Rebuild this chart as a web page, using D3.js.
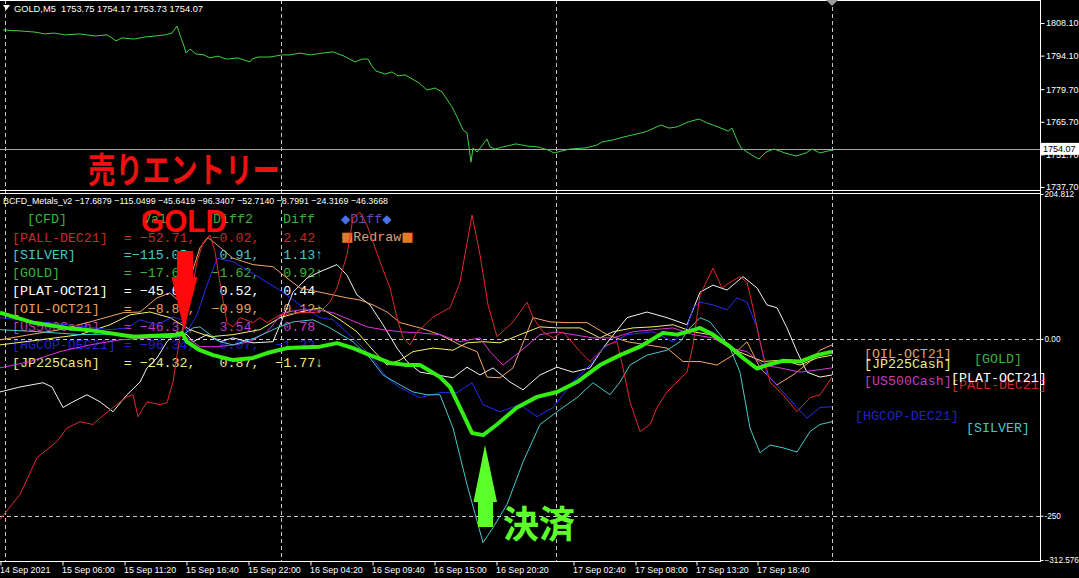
<!DOCTYPE html>
<html><head><meta charset="utf-8">
<script src="https://cdn.jsdelivr.net/npm/d3@7"></script>
<style>html,body{margin:0;padding:0;background:#000;overflow:hidden}text{white-space:pre}</style>
</head><body><svg id="c" width="1079" height="578"></svg>
<script>
// ---------- DATA ----------
const timeLabels = ["14 Sep 2021","15 Sep 06:00","15 Sep 11:20","15 Sep 16:40","15 Sep 22:00","16 Sep 04:20","16 Sep 09:40","16 Sep 15:00","16 Sep 20:20","17 Sep 02:40","17 Sep 08:00","17 Sep 13:20","17 Sep 18:40"];
const timeTicks = [0,62,124,186,248,310,372,434,496,573,635,696,757];
const gridBars = [5,281,556,832];
const priceTicks = [1808.10,1794.10,1779.70,1765.70,1751.70,1737.70];
const lastPrice = 1754.07;
const indTicks = [204.812,0,-250,-312.576];
const indLevels = [0,-250];

const goldPrice = [[3,1805.1],[20,1804.7],[35,1804.2],[45,1803.4],[54,1803.8],[65,1803.0],[80,1803.4],[95,1802.5],[107,1803.0],[112,1801.7],[116,1800.4],[122,1801.7],[134,1801.2],[145,1802.1],[155,1802.5],[165,1803.0],[172,1803.8],[177,1806.8],[181,1801.7],[184,1798.2],[186,1795.2],[190,1796.9],[196,1794.8],[204,1794.4],[210,1793.1],[218,1793.9],[226,1792.6],[238,1793.1],[250,1791.4],[252,1792.6],[258,1793.5],[270,1793.5],[282,1794.4],[290,1794.4],[300,1795.2],[310,1794.4],[323,1795.2],[333,1795.7],[344,1793.9],[355,1791.4],[362,1792.6],[368,1792.6],[372,1789.6],[376,1787.5],[385,1786.2],[392,1787.1],[398,1785.4],[405,1785.8],[412,1784.1],[419,1782.4],[427,1779.3],[435,1780.2],[442,1778.5],[452,1772.1],[457,1767.8],[463,1762.2],[467,1760.9],[469,1754.9],[471,1748.4],[473,1754.5],[477,1752.7],[481,1754.9],[487,1758.3],[490,1754.9],[495,1754.0],[503,1754.9],[516,1756.2],[527,1755.3],[538,1754.9],[548,1753.6],[554,1752.3],[562,1753.2],[570,1754.0],[586,1754.5],[597,1755.7],[602,1757.0],[613,1757.9],[624,1759.2],[645,1761.3],[661,1764.3],[669,1763.0],[677,1763.5],[688,1765.6],[699,1766.9],[707,1765.2],[718,1763.5],[728,1761.7],[732,1763.0],[737,1757.9],[741,1754.5],[747,1752.7],[755,1750.6],[759,1749.7],[766,1752.7],[774,1754.0],[785,1752.3],[796,1751.0],[806,1752.3],[812,1754.0],[820,1752.3],[828,1753.2],[833,1753.6]];

const goldIdx = [[0,37],[33,23],[67,15.5],[97,11],[133,3],[177,6],[182,8.5],[187,-4],[200,-16],[213,-23],[233,-30],[253,-27],[267,-20],[287,-13],[320,-11],[337,-6],[353,-13],[370,-23],[390,-34],[407,-37],[420,-37],[440,-54],[450,-68],[460,-97],[472,-133],[483,-136],[497,-121],[517,-97],[537,-82],[557,-75],[577,-61],[600,-37],[620,-23],[640,-11],[663,8.5],[677,6],[687,10],[700,15.5],[713,6],[730,-11],[743,-27],[757,-42],[767,-37],[783,-31],[800,-32],[817,-23],[832,-18]];
const silverIdx = [[0,13],[40,10],[80,6],[120,7],[160,1.4],[180,3],[193,15.5],[200,17],[210,6],[220,-4],[233,-8.5],[255,1.4],[277,15.5],[293,24],[313,27],[330,15.5],[353,-4],[370,-27],[383,-51],[400,-65],[413,-75],[427,-79],[440,-79],[453,-126],[467,-206],[483,-288],[493,-267],[507,-234],[523,-174],[540,-121],[557,-103],[577,-83],[593,-62],[610,-79],[620,-61],[630,-37],[647,-23],[667,-16],[680,-4],[690,15.5],[700,30],[710,24],[720,6],[730,-13],[740,-47],[750,-126],[760,-161],[770,-150],[783,-154],[797,-160],[810,-131],[820,-121],[832,-117]];
const pallIdx = [[0,-255],[20,-220],[37,-168],[57,-145],[67,-126],[80,-117],[93,-121],[100,-112],[113,-97],[127,-82],[133,-79],[138,-110],[147,-89],[160,-93],[167,-90],[173,-61],[177,-23],[180,1.4],[190,55],[197,109],[203,136],[210,147],[215,123],[222,62],[227,23],[233,17],[240,30],[253,23],[260,30],[267,23],[280,34],[300,37],[320,38],[330,52],[337,72],[347,119],[353,171],[360,179],[367,161],[380,109],[390,72],[397,30],[403,1.4],[410,-8.5],[417,10],[425,20],[433,31],[450,44],[460,80],[472,175],[480,119],[488,48],[497,3],[513,24],[527,52],[533,30],[543,10],[553,1.4],[563,10],[580,-18],[590,-32],[600,-18],[607,-8.5],[617,-4],[623,-41],[630,-89],[640,-131],[650,-121],[657,-97],[667,-75],[677,-61],[687,-47],[693,-8.5],[700,62],[713,100],[722,72],[730,80],[740,88],[747,80],[753,44],[760,-4],[770,-61],[783,-79],[797,-103],[810,-83],[820,-79],[832,-54]];
const hgcopIdx = [[0,30],[40,24],[80,18],[110,13],[127,15.5],[140,27],[157,20],[173,31],[182,27],[187,10],[197,34],[207,76],[217,114],[233,109],[250,95],[267,80],[280,69],[300,48],[320,30],[333,27],[353,1.4],[370,-23],[387,-55],[400,-69],[420,-83],[440,-76],[457,-76],[472,-62],[483,-93],[500,-103],[520,-93],[537,-110],[553,-97],[573,-61],[590,-37],[603,-13],[627,6],[653,10],[673,-4],[687,15.5],[693,44],[700,52],[713,48],[727,41],[737,58],[747,52],[757,15.5],[767,-51],[783,-75],[797,-97],[807,-112],[820,-97],[832,-96]];
const platIdx = [[0,-75],[20,-68],[43,-62],[52,-68],[63,-97],[73,-89],[87,-79],[100,-89],[113,-103],[127,-79],[140,-61],[147,-41],[157,-27],[167,-4],[177,10],[187,6],[193,-4],[207,6],[220,-4],[233,1.4],[253,-5.6],[273,-4],[283,30],[293,66],[307,86],[320,95],[337,105],[347,90],[357,62],[370,48],[383,20],[397,-13],[407,-32],[420,-47],[437,-51],[453,-55],[467,-40],[480,-51],[493,-41],[510,-61],[523,-72],[540,-51],[557,-40],[573,-47],[590,-41],[603,-13],[627,30],[647,38],[667,30],[687,20],[700,66],[713,76],[727,69],[743,88],[757,72],[767,48],[777,44],[787,15.5],[797,-18],[807,-47],[820,-54],[832,-51]];
const oilIdx = [[0,-1.4],[30,6],[60,13],[90,24],[123,37],[140,38],[157,58],[170,65],[180,52],[187,72],[200,129],[208,143],[217,133],[233,114],[253,105],[273,102],[287,86],[300,72],[320,66],[347,58],[360,55],[373,48],[387,38],[400,23],[420,15.5],[440,6],[460,-8.5],[477,-18],[487,-54],[500,-55],[513,-41],[533,30],[550,24],[567,23],[587,23],[607,6],[627,-4],[647,-8.5],[667,-13],[683,-32],[700,-32],[717,-37],[733,-23],[747,-4],[760,-41],[777,-65],[793,-51],[810,-32],[820,-16],[832,-8.5]];
const us500Idx = [[0,-41],[30,-32],[60,-18],[90,-8.5],[120,-1.4],[150,1.4],[180,8.5],[200,-11],[217,-11],[233,-8.5],[250,-4],[267,10],[283,37],[300,41],[317,41],[333,37],[350,27],[367,17],[383,13],[400,10],[420,8.5],[440,6],[460,-4],[480,1.4],[490,-18],[503,-37],[520,-18],[540,6],[557,10],[573,6],[593,1.4],[613,1.4],[633,10],[653,13],[673,15.5],[693,6],[713,1.4],[730,-13],[747,-18],[763,-37],[780,-41],[800,-47],[817,-44],[832,-41]];
const jp225Idx = [[0,-8.5],[40,-1.4],[80,6],[110,20],[130,34],[150,38],[170,30],[190,13],[210,3],[233,6],[260,13],[280,30],[300,38],[320,44],[340,27],[357,10],[373,-16],[387,-37],[400,-30],[413,-18],[433,-13],[453,-16],[467,-5.6],[483,-4],[500,-5.6],[520,6],[540,17],[557,15.5],[580,15.5],[600,1.4],[613,10],[633,15.5],[653,17],[673,20],[693,10],[710,6],[730,-13],[747,-23],[763,-32],[783,-30],[800,-37],[817,-27],[832,-23]];

const tableNames = ["[PALL-DEC21]","[SILVER]","[GOLD]","[PLAT-OCT21]","[OIL-OCT21]","[US500Cash]","[HGCOP-DEC21]","[JP225Cash]"];
const tableVals  = [-52.71,-115.05,-17.69,-45.64,-8.80,-46.37,-96.34,-24.32];
const tableDiff2 = [-0.02,0.91,-1.62,0.52,-0.99,3.54,0.07,0.87];
const tableDiff  = [2.42,1.13,0.92,0.44,0.12,0.78,-1.22,-1.77];
const tableArrow = ["","↑","↑","","↓","","","↓"];
const tableColors = ["#c42a2a","#46c8c8","#3cb43c","#ffffff","#e8a060","#c23cc2","#2222c8","#ecec80"];
const headerVals = [-17.6879,-115.0499,-45.6419,-96.3407,-52.7140,-8.7991,-24.3169,-46.3668];

// ---------- SETUP ----------
const svg = d3.select("#c");
svg.append("rect").attr("width",1079).attr("height",578).attr("fill","#000");
const W = 1040;
const x = d3.scaleLinear().domain([0,1040]).range([0,W]);
const yTop = d3.scaleLinear().domain([1737.7,1808.1]).range([187,23]);
const yLow = d3.scaleLinear().domain([-312.576,204.812]).range([560,194]);

const defs = svg.append("defs");
defs.append("clipPath").attr("id","cpTop").append("rect").attr("x",0).attr("y",1).attr("width",W).attr("height",189);
defs.append("clipPath").attr("id","cpLow").append("rect").attr("x",0).attr("y",194).attr("width",W).attr("height",367);

const gridCol = "#c8c8c8";
svg.append("g").selectAll("line").data(gridBars).join("line")
  .attr("x1",d=>x(d)+0.5).attr("x2",d=>x(d)+0.5).attr("y1",0).attr("y2",561)
  .attr("stroke",gridCol).attr("stroke-width",1).attr("stroke-dasharray","4,3");
svg.append("g").selectAll("line").data(indLevels).join("line")
  .attr("x1",0).attr("x2",W).attr("y1",d=>Math.round(yLow(d))+0.5).attr("y2",d=>Math.round(yLow(d))+0.5)
  .attr("stroke",gridCol).attr("stroke-width",1).attr("stroke-dasharray","4,3");
svg.append("line").attr("x1",0).attr("x2",W).attr("y1",Math.round(yTop(lastPrice))+0.5).attr("y2",Math.round(yTop(lastPrice))+0.5)
  .attr("stroke","#a8a8a8").attr("stroke-width",1);

const frame = svg.append("g").attr("stroke","#fff").attr("stroke-width",1);
frame.append("line").attr("x1",0).attr("x2",W+0.5).attr("y1",0.5).attr("y2",0.5);
frame.append("line").attr("x1",0).attr("x2",W+0.5).attr("y1",190.5).attr("y2",190.5);
frame.append("line").attr("x1",0).attr("x2",W+0.5).attr("y1",193.5).attr("y2",193.5);
frame.append("line").attr("x1",0).attr("x2",W+0.5).attr("y1",561.5).attr("y2",561.5);
frame.append("line").attr("x1",W+0.5).attr("x2",W+0.5).attr("y1",0).attr("y2",562);

svg.append("path").attr("d",`M${x(832)-6},0L${x(832)+6},0L${x(832)},6Z`).attr("fill","#9a9a9a");

// ---------- TOP PANEL ----------
const lineTop = d3.line().x(d=>x(d[0])).y(d=>yTop(d[1]));
svg.append("path").datum(goldPrice).attr("clip-path","url(#cpTop)")
  .attr("d",lineTop).attr("fill","none").attr("stroke","#3fcf3f").attr("stroke-width",1);

svg.append("path").attr("d","M3,5L10,5L6.5,10Z").attr("fill","#fff");
svg.append("text").attr("x",14).attr("y",11.5).attr("fill","#fff")
  .attr("font-family","Liberation Sans, Arial, sans-serif").attr("font-size",9.5)
  .attr("textLength",189).attr("lengthAdjust","spacingAndGlyphs")
  .text("GOLD,M5  1753.75 1754.17 1753.73 1754.07");

const axFont = 9;
const axTop = d3.axisRight(yTop).tickValues(priceTicks).tickFormat(d3.format(".2f")).tickSize(4).tickPadding(1.5);
const gTop = svg.append("g").attr("transform",`translate(${W+0.5},0)`).call(axTop);
gTop.select(".domain").remove();
gTop.selectAll("line").attr("stroke","#fff");
gTop.selectAll("text").attr("fill","#fff").attr("font-family","Liberation Sans, Arial, sans-serif").attr("font-size",axFont);
const lpY = yTop(lastPrice);
svg.append("rect").attr("x",W+1).attr("y",lpY-6).attr("width",38).attr("height",12).attr("fill","#fff");
svg.append("text").attr("x",W+3).attr("y",lpY+3.5).attr("fill","#000")
  .attr("font-family","Liberation Sans, Arial, sans-serif").attr("font-size",axFont).text(d3.format(".2f")(lastPrice));

// ---------- LOWER PANEL ----------
svg.append("text").attr("x",3).attr("y",203.5).attr("fill","#fff")
  .attr("font-family","Liberation Sans, Arial, sans-serif").attr("font-size",9.4)
  .attr("textLength",385).attr("lengthAdjust","spacingAndGlyphs")
  .text("BCFD_Metals_v2 " + headerVals.map(d3.format(".4f")).join(" "));

const mono = "Liberation Mono, DejaVu Sans Mono, monospace";
const tFont = 13.3;
const tbl = svg.append("g").attr("font-family",mono).attr("font-size",tFont);
const hY = 222.5;
tbl.append("text").attr("x",27).attr("y",hY).attr("fill","#3cb43c").text("[CFD]");
tbl.append("text").attr("x",143).attr("y",hY).attr("fill","#3cb43c").text("Val");
tbl.append("text").attr("x",213).attr("y",hY).attr("fill","#3cb43c").text("Diff2");
tbl.append("text").attr("x",283).attr("y",hY).attr("fill","#3cb43c").text("Diff");
const dT = tbl.append("text").attr("x",341).attr("y",hY);
dT.append("tspan").attr("fill","#4a72e6").attr("font-family","DejaVu Sans").attr("font-size",12).text("◆");
dT.append("tspan").attr("fill","#6a48b8").text("Diff");
dT.append("tspan").attr("fill","#4a72e6").attr("font-family","DejaVu Sans").attr("font-size",12).text("◆");
const rT = tbl.append("text").attr("x",341).attr("y",hY+18.5);
rT.append("tspan").attr("fill","#e07a26").attr("font-family","DejaVu Sans").attr("font-size",13).text("■");
rT.append("tspan").attr("fill","#d8a474").text("Redraw");
rT.append("tspan").attr("fill","#e07a26").attr("font-family","DejaVu Sans").attr("font-size",13).text("■");

const f7 = d3.format(">7.2f"), f5 = d3.format(">5.2f");
const rows = tableNames.map((n,i)=> n.padEnd(14," ") + "=" + f7(tableVals[i]) + ",  " + f5(tableDiff2[i]) + ",  " + f5(tableDiff[i]) + tableArrow[i]);
tbl.selectAll("text.row").data(rows).join("text").attr("class","row")
  .attr("xml:space","preserve")
  .attr("x",12).attr("y",(d,i)=>241.5+i*17.9).attr("fill",(d,i)=>tableColors[i]).text(d=>d);

const lineLow = d3.line().x(d=>x(d[0])).y(d=>yLow(d[1]));
const series = [
  {d:platIdx,c:"#f2f2f2",w:1},
  {d:oilIdx,c:"#f4a460",w:1},
  {d:jp225Idx,c:"#f5f06a",w:1},
  {d:us500Idx,c:"#d838d8",w:1},
  {d:hgcopIdx,c:"#2a2aee",w:1},
  {d:silverIdx,c:"#48c8c8",w:1},
  {d:pallIdx,c:"#e02a2a",w:1},
  {d:goldIdx,c:"#33ee11",w:4}
];
svg.append("g").attr("clip-path","url(#cpLow)").selectAll("path").data(series).join("path")
  .attr("d",s=>lineLow(s.d)).attr("fill","none").attr("stroke",s=>s.c).attr("stroke-width",s=>s.w)
  .attr("stroke-linejoin","round");

const endLabels = [
  {t:"[OIL-OCT21]",x:864,y:353,c:"#e8a060"},
  {t:"[JP225Cash]",x:864,y:363.5,c:"#ecec80"},
  {t:"[GOLD]",x:974,y:358,c:"#3cb43c"},
  {t:"[US500Cash]",x:864,y:380,c:"#c23cc2"},
  {t:"[PALL-DEC21]",x:951,y:384,c:"#c42a2a"},
  {t:"[PLAT-OCT21]",x:951,y:377,c:"#ffffff"},
  {t:"[HGCOP-DEC21]",x:855,y:415,c:"#2222c8"},
  {t:"[SILVER]",x:966,y:427,c:"#46c8c8"}
];
svg.append("g").attr("font-family",mono).attr("font-size",tFont).selectAll("text").data(endLabels).join("text")
  .attr("x",d=>d.x).attr("y",d=>d.y+4.5).attr("fill",d=>d.c).text(d=>d.t);

const axLow = d3.axisRight(yLow).tickValues(indTicks).tickFormat(d=> d===0?"0.00":(Number.isInteger(d)?String(d):d3.format(".3f")(d))).tickSize(3).tickPadding(1);
const gLow = svg.append("g").attr("transform",`translate(${W+0.5},0)`).call(axLow);
gLow.select(".domain").remove();
gLow.selectAll("line").attr("stroke","#fff");
gLow.selectAll("text").attr("fill","#fff").attr("font-family","Liberation Sans, Arial, sans-serif").attr("font-size",8.2);

const axB = d3.axisBottom(x).tickValues(timeTicks).tickFormat((d,i)=>timeLabels[i]).tickSize(4).tickPadding(1);
const gB = svg.append("g").attr("transform","translate(0.5,561.5)").call(axB);
gB.select(".domain").remove();
gB.selectAll("line").attr("stroke","#fff");
gB.selectAll("text").attr("fill","#fff").attr("text-anchor","start").attr("dx",-1)
  .attr("font-family","Liberation Sans, Arial, sans-serif").attr("font-size",8.9);

// ---------- ANNOTATIONS ----------
svg.append("text").attr("x",88).attr("y",183).attr("fill","#ee1111")
  .attr("font-family","Noto Sans CJK JP, sans-serif").attr("font-weight","bold").attr("font-size",35)
  .attr("textLength",192).attr("lengthAdjust","spacingAndGlyphs").text("売りエントリー");
svg.append("text").attr("x",141).attr("y",232).attr("fill","#ff0a0a")
  .attr("font-family","Liberation Sans, Arial, sans-serif").attr("font-weight","bold").attr("font-size",30.5)
  .attr("textLength",86).attr("lengthAdjust","spacingAndGlyphs").text("GOLD");
svg.append("path").attr("d","M177,251L193,251L193,277L197.5,277L184,330L171.5,277L177,277Z").attr("fill","#ff0a0a");

svg.append("path").attr("d","M485,445L497,502L493,502L493,527L478,527L478,502L473.5,502Z").attr("fill","#5cff2a");
svg.append("text").attr("x",503).attr("y",538).attr("fill","#5cff2a")
  .attr("font-family","Noto Sans CJK JP, sans-serif").attr("font-weight","bold").attr("font-size",37)
  .attr("textLength",72).attr("lengthAdjust","spacingAndGlyphs").text("決済");
</script></body></html>
